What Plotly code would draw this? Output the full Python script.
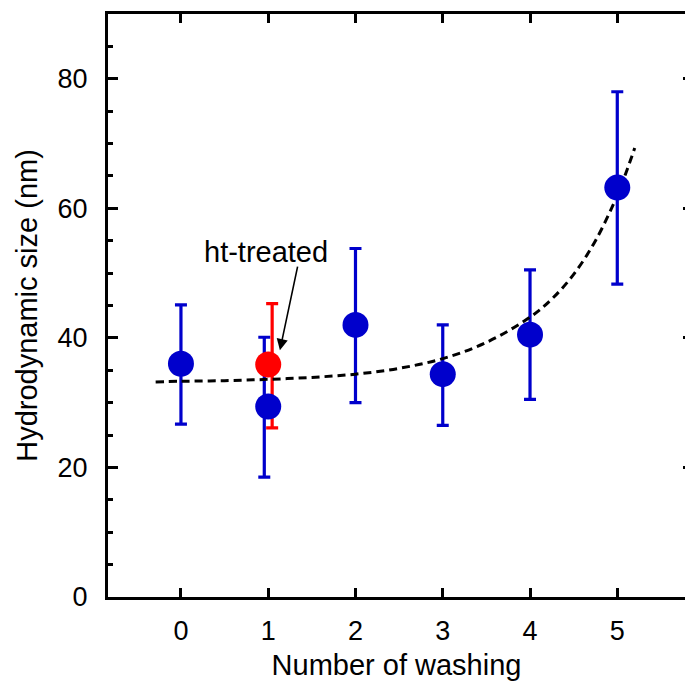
import plotly.graph_objects as go

# Washing series (blue): mean hydrodynamic size with error bounds
wash_n = [0, 1, 2, 3, 4, 5]
wash_size = [36.0, 29.4, 42.0, 34.4, 40.5, 63.2]
wash_hi = [45.1, 40.1, 53.8, 42.0, 50.5, 78.0]
wash_lo = [26.7, 18.5, 30.0, 26.5, 30.5, 48.3]

# Heat-treated sample (red)
ht_n = [1]
ht_size = [35.9]
ht_hi = [45.3]
ht_lo = [26.1]

# Trend curve (dashed)
trend_x = [-0.29, 0.0, 0.5, 1.0, 1.5, 2.0, 2.5, 3.0, 3.5, 4.0, 4.25, 4.5, 4.75, 5.0, 5.1, 5.2]
trend_y = [33.2, 33.3, 33.4, 33.6, 33.9, 34.4, 35.3, 36.8, 39.3, 43.2, 46.0, 49.8, 55.0, 62.0, 65.5, 69.3]

BLUE = "#0000CC"
RED = "#FF0000"
FONT = "Liberation Sans, Arial, sans-serif"
BAR_SHIFT = 0.045  # side-by-side error bars where samples share an x


def err(center, hi, lo):
    return dict(
        type="data", symmetric=False,
        array=[h - c for h, c in zip(hi, center)],
        arrayminus=[c - l for c, l in zip(center, lo)],
        thickness=3.2, width=6,
    )


def shifted(xs, ref, dx):
    return [x + dx if x in ref else x for x in xs]


fig = go.Figure()

# error bars
fig.add_trace(go.Scatter(
    x=shifted(wash_n, ht_n, -BAR_SHIFT), y=wash_size, mode="markers",
    marker=dict(size=1, color="rgba(0,0,0,0)"),
    error_y=dict(**err(wash_size, wash_hi, wash_lo), color=BLUE),
    showlegend=False, hoverinfo="skip"))
fig.add_trace(go.Scatter(
    x=[x + BAR_SHIFT for x in ht_n], y=ht_size, mode="markers",
    marker=dict(size=1, color="rgba(0,0,0,0)"),
    error_y=dict(**err(ht_size, ht_hi, ht_lo), color=RED),
    showlegend=False, hoverinfo="skip"))

# trend curve
fig.add_trace(go.Scatter(
    x=trend_x, y=trend_y, mode="lines",
    line=dict(color="black", width=3, dash="8px,5px", shape="spline"),
    showlegend=False))

# points
fig.add_trace(go.Scatter(
    x=wash_n, y=wash_size, mode="markers",
    marker=dict(size=26, color=BLUE, line=dict(width=0)),
    showlegend=False))
fig.add_trace(go.Scatter(
    x=ht_n, y=ht_size, mode="markers",
    marker=dict(size=26, color=RED, line=dict(width=0)),
    showlegend=False))

# label with arrow
fig.add_annotation(x=1.134, y=38.1, ax=18, ay=-85, text="", showarrow=True,
                   arrowhead=2, arrowsize=1.4, arrowwidth=1.6, arrowcolor="black")
fig.add_annotation(x=0.979, y=53.3, text="ht-treated", showarrow=False,
                   font=dict(family=FONT, size=29, color="black"))

fig.update_layout(
    width=685, height=681,
    margin=dict(l=108, r=0, t=14, b=84),
    paper_bgcolor="white", plot_bgcolor="white",
    font=dict(family=FONT, size=27, color="black"),
    xaxis=dict(
        range=[-0.836, 5.776], tickmode="array", tickvals=wash_n,
        ticks="inside", ticklen=9, tickwidth=3, tickcolor="black",
        showline=True, linewidth=3, linecolor="black", mirror="ticks",
        showgrid=False, zeroline=False, ticklabelstandoff=8,
        tickfont=dict(size=27),
        title=dict(text="Number of washing", font=dict(size=29), standoff=12),
    ),
    yaxis=dict(
        range=[0, 90], tick0=0, dtick=20,
        ticks="inside", ticklen=10, tickwidth=3, tickcolor="black",
        minor=dict(dtick=5, tick0=0, ticks="inside", ticklen=5, tickwidth=2.5, tickcolor="black"),
        showline=True, linewidth=3, linecolor="black", mirror=False,
        showgrid=False, zeroline=False, ticklabelstandoff=12,
        tickfont=dict(size=27),
        title=dict(text="Hydrodynamic size (nm)", font=dict(size=29), standoff=12),
    ),
    yaxis2=dict(
        range=[0, 90], tick0=0, dtick=20, overlaying="y", side="right",
        ticks="inside", ticklen=2, tickwidth=3, tickcolor="black",
        showticklabels=False, showline=False, showgrid=False, zeroline=False,
    ),
)
# invisible trace to activate the right-hand axis
fig.add_trace(go.Scatter(x=[None], y=[None], yaxis="y2", showlegend=False))

fig.write_html("out.html")
